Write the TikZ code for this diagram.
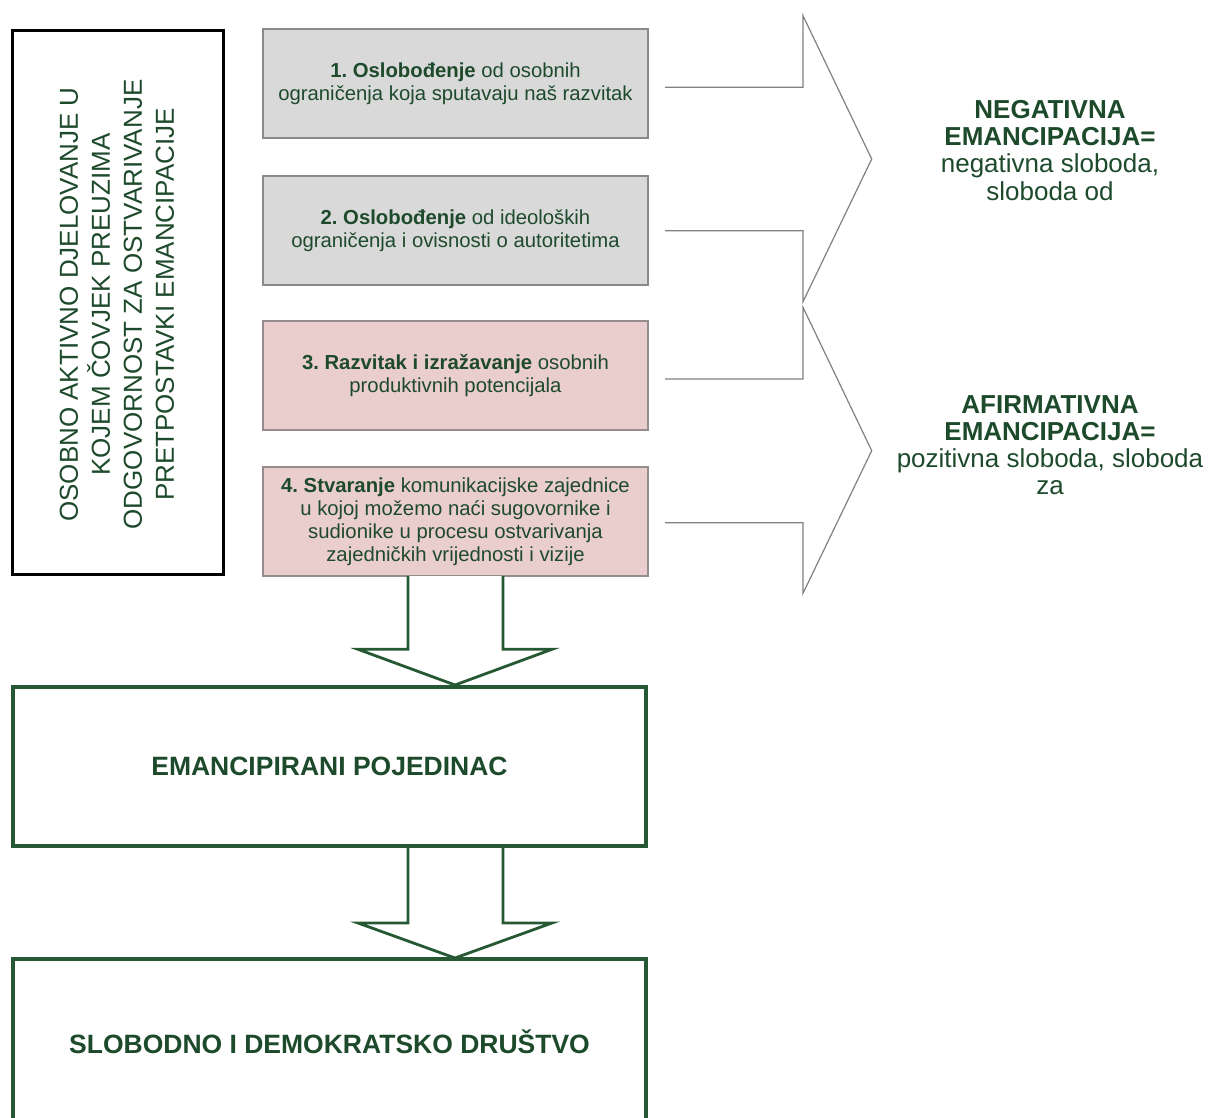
\documentclass[tikz,border=0pt]{standalone}
\usepackage{fontspec}
\setmainfont{Liberation Sans}
\frenchspacing
\definecolor{tgreen}{RGB}{30,74,44}
\definecolor{lgreen}{RGB}{38,88,52}
\definecolor{boxgray}{RGB}{217,217,217}
\definecolor{boxedge}{RGB}{138,138,138}
\definecolor{boxpink}{RGB}{234,205,205}
\definecolor{pinkedge}{RGB}{150,140,140}
\definecolor{arrgray}{RGB}{128,128,128}
\newcommand{\myboxfont}{\fontsize{20.3}{23}\selectfont}
\newcommand{\mybigbold}{\fontsize{26.5}{30}\selectfont\bfseries}
\newcommand{\myrightfont}{\fontsize{26}{27.3}\selectfont}
\newcommand{\myleftfont}{\fontsize{26}{32}\selectfont}
\begin{document}
\begin{tikzpicture}[x=1pt,y=-1pt,
  txt/.style={text=tgreen, inner sep=0pt, align=center},
  graybox/.style={draw=boxedge, fill=boxgray, line width=1.1pt, minimum width=385pt,
    minimum height=109pt, inner sep=0pt, align=center, text=tgreen, font=\myboxfont},
  pinkbox/.style={graybox, fill=boxpink, draw=pinkedge},
  leftbox/.style={draw=black, line width=3.3pt, minimum width=210.7pt, minimum height=543.7pt, inner sep=0pt},
  greenbox/.style={draw=lgreen, line width=3.6pt, minimum width=633.4pt,
    inner sep=0pt, text=tgreen, font=\mybigbold},
  outarrow/.style={draw=arrgray, line width=1.2pt, line join=miter},
  downarrow/.style={draw=lgreen, line width=2.8pt, line join=miter, fill=white}
]
\useasboundingbox (0,0) rectangle (1213,1118);
\clip (0,0) rectangle (1213,1118);

% left box
\node[leftbox] (lb) at (118,302.5) {};
\node[txt, rotate=90, font=\myleftfont] (lt) at (117,304.5)
  {OSOBNO AKTIVNO DJELOVANJE U\\KOJEM ČOVJEK PREUZIMA\\ODGOVORNOST ZA OSTVARIVANJE\\PRETPOSTAVKI EMANCIPACIJE};

% four boxes
\node[graybox] (b1) at (455.5,83.5) {{\bfseries 1. Oslobođenje} od osobnih\\ograničenja koja sputavaju naš razvitak};
\node[graybox] (b2) at (455.5,230.5) {{\bfseries 2. Oslobođenje} od ideoloških\\ograničenja i ovisnosti o autoritetima};
\node[pinkbox] (b3) at (455.5,375.5) {{\bfseries 3. Razvitak i izražavanje} osobnih\\produktivnih potencijala};
\node[pinkbox] (b4) at (455.5,521.5) {{\bfseries 4. Stvaranje} komunikacijske zajednice\\u kojoj možemo naći sugovornike i\\sudionike u procesu ostvarivanja\\zajedničkih vrijednosti i vizije};

% right open arrows
\coordinate (p1a) at (665,87.3);
\coordinate (p1b) at (803,87.3);
\coordinate (p1c) at (803,15.7);
\coordinate (p1tip) at (871.7,159);
\coordinate (p1d) at (803,301.7);
\coordinate (p1e) at (803,230.7);
\coordinate (p1f) at (665,230.7);
\draw[outarrow] (p1a) -- (p1b) -- (p1c) -- (p1tip) -- (p1d) -- (p1e) -- (p1f);

\coordinate (p2a) at (665,379);
\coordinate (p2b) at (803,379);
\coordinate (p2c) at (803,307.3);
\coordinate (p2tip) at (871.7,450.7);
\coordinate (p2d) at (803,593.3);
\coordinate (p2e) at (803,522.7);
\coordinate (p2f) at (665,522.7);
\draw[outarrow] (p2a) -- (p2b) -- (p2c) -- (p2tip) -- (p2d) -- (p2e) -- (p2f);

% right texts
\node[txt, anchor=north, font=\myrightfont] (neg) at (1050,100)
  {{\bfseries NEGATIVNA}\\{\bfseries EMANCIPACIJA=}\\negativna sloboda,\\sloboda od};
\node[txt, anchor=north, font=\myrightfont] (afi) at (1050,395)
  {{\bfseries AFIRMATIVNA}\\{\bfseries EMANCIPACIJA=}\\pozitivna sloboda, sloboda\\za};

% bottom boxes
\node[greenbox, minimum height=159.4pt] (ep) at (329.5,766.5) {EMANCIPIRANI POJEDINAC};
\node[greenbox, minimum height=166pt] (sd) at (329.5,1042) {SLOBODNO I DEMOKRATSKO DRUŠTVO};

% down arrows
\coordinate (d1a) at (408,576);
\coordinate (d1b) at (408,649.3);
\coordinate (d1c) at (358,649.3);
\coordinate (d1tip) at (455,685);
\coordinate (d1d) at (552,649.3);
\coordinate (d1e) at (503,649.3);
\coordinate (d1f) at (503,576);
\draw[downarrow] (d1a) -- (d1b) -- (d1c) -- (d1tip) -- (d1d) -- (d1e) -- (d1f);

\coordinate (d2a) at (408,848);
\coordinate (d2b) at (408,923);
\coordinate (d2c) at (358,923);
\coordinate (d2tip) at (455,958);
\coordinate (d2d) at (552,923);
\coordinate (d2e) at (503,923);
\coordinate (d2f) at (503,848);
\draw[downarrow] (d2a) -- (d2b) -- (d2c) -- (d2tip) -- (d2d) -- (d2e) -- (d2f);
\end{tikzpicture}
\end{document}
